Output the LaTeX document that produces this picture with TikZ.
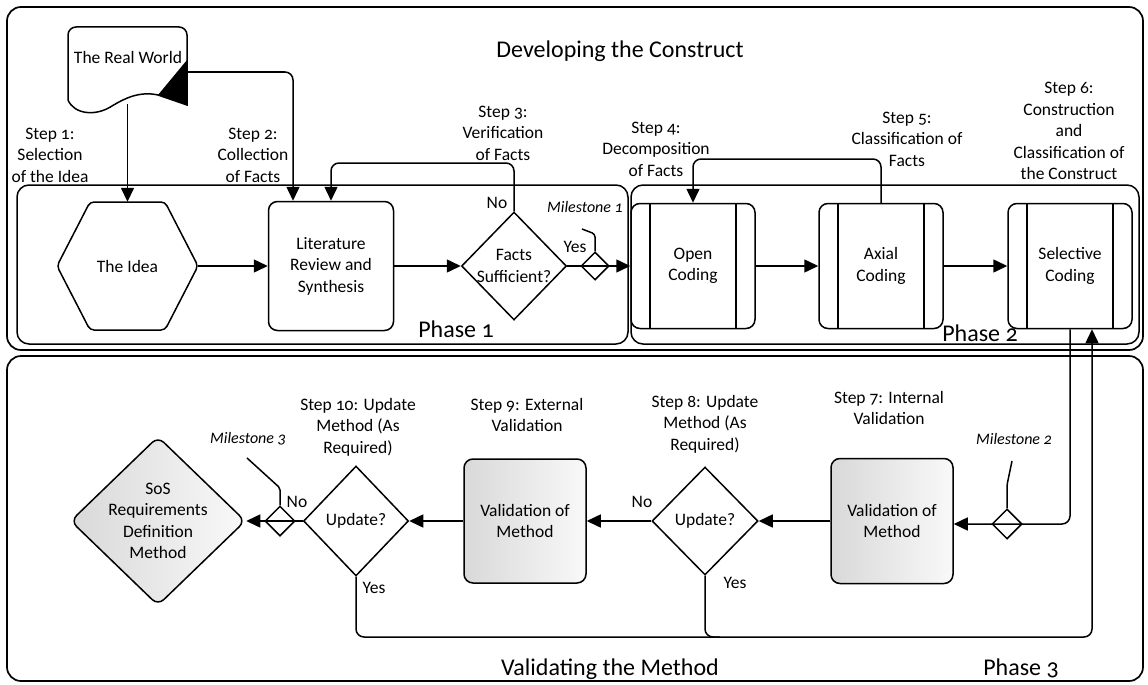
\documentclass[tikz,border=0pt]{standalone}
\usepackage{fontspec}
\setmainfont{Carlito}[Numbers=OldStyle]
\usetikzlibrary{shapes.geometric,arrows.meta}
\begin{document}
\begin{tikzpicture}[x=1pt,y=-1pt,
  every node/.style={font=\fontsize{17.5}{21.5}\selectfont},
  lbl/.style={align=center, inner sep=0pt},
  ms/.style={font=\fontsize{16}{19}\selectfont\itshape, inner sep=0pt},
  big/.style={font=\fontsize{24}{28}\selectfont, inner sep=0pt, anchor=base},
  box/.style={draw, line width=1.5pt, rounded corners=9pt, align=center, inner sep=0pt},
  proc/.style={box, minimum width=124pt, minimum height=125pt,
    path picture={\draw[line width=1.5pt]
      ([xshift=19pt]path picture bounding box.north west) -- ([xshift=19pt]path picture bounding box.south west)
      ([xshift=-19pt]path picture bounding box.north east) -- ([xshift=-19pt]path picture bounding box.south east);}},
  dia/.style={diamond, draw, line width=1.5pt, inner sep=0pt},
  conn/.style={line width=1.5pt, rounded corners=8pt},
  arr/.style={conn, -{Triangle[length=14pt,width=13pt]}},
  frame/.style={draw, line width=1.7pt, rounded corners=14pt},
  pframe/.style={draw, line width=1.5pt, rounded corners=12pt},
  shade/.style={left color=gray!30, right color=gray!5}
]
\useasboundingbox (0,0) rectangle (1148,685);
% frames
\draw[frame] (7,7) rectangle (1143,350);
\draw[frame] (7,356) rectangle (1143,681);
\draw[pframe] (17,185) rectangle (628,344);
\draw[pframe] (631,185) rectangle (1139,344);

% titles
\node[big] (tdev) at (620,58) {Developing the Construct};
\node[big] (ph1) at (456,337) {Phase 1};
\node[big] (ph2) at (980,341) {Phase 2};
\node[big] (tval) at (610,675) {Validating the Method};
\node[big] (ph3) at (1021,675) {Phase 3};

% The Real World (document shape)
\draw[line width=1.5pt] (68,100) {[rounded corners=8pt] -- (68,27) -- (187,27) -- (187,60)} -- (187,105) -- (158,95)
  .. controls (140,91) and (125,98) .. (112,106) .. controls (95,117) and (74,114) .. (68,100) -- cycle;
\fill (187,60) -- (187,105) -- (158,95) -- cycle;
\node[lbl] (rw) at (128,57) {The Real World};
\coordinate (rwb) at (127.5,104);
\coordinate (rwr) at (187,72);

% The Idea (hexagon)
\draw[line width=1.5pt, rounded corners=4pt] (57,266) -- (90,202) -- (165,202) -- (198,266) -- (165,330) -- (90,330) -- cycle;
\node[lbl, minimum width=141pt, minimum height=128pt] (idea) at (127.5,266) {The Idea};

% upper row
\node[box, minimum width=125pt, minimum height=129pt] (lit) at (331,266) {Literature\\Review and\\Synthesis};
\node[dia, minimum width=105pt, minimum height=108pt, label={[lbl]center:Facts\\Sufficient?}] (facts) at (514,266) {};
\node[dia, minimum width=28pt, minimum height=28pt] (m1) at (595,266) {};
\node[proc] (open) at (693,266) {Open\\Coding};
\node[proc] (axial) at (881,266) {Axial\\Coding};
\node[proc] (sel) at (1070,266) {Selective\\Coding};

% lower row
\node[dia, rounded corners=8pt, shade, minimum width=175pt, minimum height=169pt,
  label={[lbl]center:SoS\\Requirements\\Definition\\Method}] (sos) at (158,521) {};
\node[dia, minimum width=30pt, minimum height=30pt] (m3) at (280,521) {};
\node[dia, minimum width=105pt, minimum height=110pt, label={[lbl]center:Update?}] (upd10) at (356,521) {};
\node[box, shade, minimum width=122pt, minimum height=124pt] (val9) at (525,521) {Validation of\\Method};
\node[dia, minimum width=106pt, minimum height=108pt, label={[lbl]center:Update?}] (upd8) at (705,521) {};
\node[box, shade, minimum width=122pt, minimum height=125pt] (val7) at (892,521) {Validation of\\Method};
\node[dia, minimum width=30pt, minimum height=30pt] (m2) at (1007,524) {};
\coordinate (upx) at (1092,0);

% connectors upper
\draw[arr] (rwb) -- (idea.north);
\draw[arr] (rwr) -| ([xshift=-38pt]lit.north);
\draw[arr] (idea.east) -- (lit.west);
\draw[arr] (lit.east) -- (facts.west);
\draw[arr] (facts.north) -- (514,163) -| (lit.north);
\draw[arr] (facts.east) -- (open.west);
\draw[arr] (open.east) -- (axial.west);
\draw[arr] (axial.east) -- (sel.west);
\draw[arr] (axial.north) -- (881,159) -| (open.north);

% connectors lower
\draw[arr] (sel.south) |- (val7.east |- m2.center);
\draw[arr] (val7.west) -- (upd8.east);
\draw[arr] (upd8.west) -- (val9.east);
\draw[arr] (val9.west) -- (upd10.east);
\draw[arr] (upd10.west) -- (sos.east);
\draw[conn] (upd10.south) -- (356,637) -- (720,637);
\draw[arr] (upd8.south) -- (705,637) -- (1092,637) -- (sel.south -| upx);

% milestone flags
\draw[conn, rounded corners=3pt] (m1.north) -- (595,234) -- (582,229);
\draw[conn, rounded corners=2pt] (m3.north) -- (280,488) -- (247,458);
\draw[conn, rounded corners=2pt] (m2.north) -- (1007,485) -- (1012,461);
\node[ms] (ml1) at (585,207) {Milestone 1};
\node[ms] (ml3) at (248,439) {Milestone 3};
\node[ms] (ml2) at (1014,439) {Milestone 2};

% yes / no
\node[lbl] (no1) at (497,203) {No};
\node[lbl] (yes1) at (575,247) {Yes};
\node[lbl] (no3) at (297,502) {No};
\node[lbl] (yes3) at (374,588) {Yes};
\node[lbl] (no2) at (642,502) {No};
\node[lbl] (yes2) at (735,583) {Yes};

% step labels
\node[lbl] (s1) at (50,155) {Step 1:\\Selection\\of the Idea};
\node[lbl] (s2) at (253,155) {Step 2:\\Collection\\of Facts};
\node[lbl] (s3) at (503,133) {Step 3:\\Verification\\of Facts};
\node[lbl] (s4) at (656,149) {Step 4:\\Decomposition\\of Facts};
\node[lbl] (s5) at (907,139) {Step 5:\\Classification of\\Facts};
\node[lbl] (s6) at (1069,131) {Step 6:\\Construction\\and\\Classification of\\the Construct};
\node[lbl] (s7) at (889,408) {Step 7: Internal\\Validation};
\node[lbl] (s8) at (705,424) {Step 8: Update\\Method (As\\Required)};
\node[lbl] (s9) at (527,415) {Step 9: External\\Validation};
\node[lbl] (s10) at (358,427) {Step 10: Update\\Method (As\\Required)};
\end{tikzpicture}
\end{document}
